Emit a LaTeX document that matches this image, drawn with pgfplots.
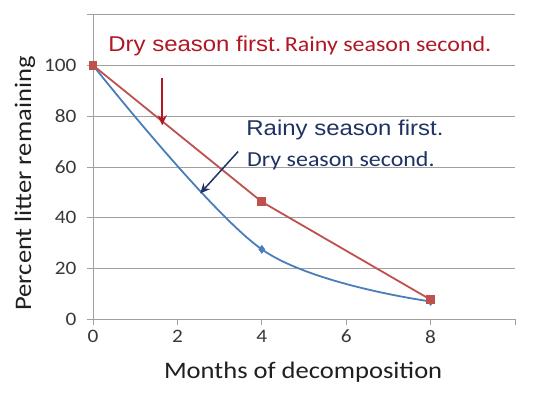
\documentclass[border=0pt]{standalone}
\usepackage{fontspec}
\setmainfont{Carlito}[FakeStretch=1.12]
\newfontfamily\arialf{Liberation Sans}[FakeStretch=1.12]
\usepackage{pgfplots}
\pgfplotsset{compat=1.18}
\usetikzlibrary{arrows.meta}
\definecolor{redline}{RGB}{192,80,77}
\definecolor{blueline}{RGB}{74,126,187}
\definecolor{redtext}{RGB}{176,22,36}
\definecolor{navytext}{RGB}{31,50,100}
\definecolor{gridgray}{RGB}{160,160,160}
\begin{document}
\begin{tikzpicture}
\useasboundingbox (-93pt,-78pt) rectangle (445pt,319.5pt);
\begin{axis}[
  scale only axis,
  width=422pt, height=305pt,
  xmin=0, xmax=10, ymin=0, ymax=120,
  xtick={0,2,4,6,8,10},
  xticklabels={0,2,4,6,8,},
  ytick={0,20,40,60,80,100,120},
  yticklabels={0,20,40,60,80,100,},
  axis lines*=left,
  axis line style={gridgray, line width=0.8pt, -},
  ymajorgrids, xmajorgrids=false,
  grid style={gridgray, line width=0.8pt},
  tick align=outside,
  major tick length=6pt,
  tick style={gridgray, line width=0.8pt},
  /pgf/number format/assume math mode=true,
  ticklabel style={font=\fontsize{19}{22}\selectfont, text=black!78},
  xticklabel style={yshift=-1pt},
  yticklabel style={xshift=-7pt},
  xlabel={Months of decomposition},
  ylabel={Percent litter remaining},
  xlabel style={font=\fontsize{23.7}{28}\selectfont, text=black!88, at={(axis description cs:0.498,-0.174)}, anchor=center},
  ylabel style={font=\fontsize{23.7}{28}\selectfont, text=black!88, at={(axis description cs:-0.161,0.446)}, anchor=center, rotate=0},
  clip=false,
]
\addplot[blueline, line width=1.8pt, smooth, tension=0.55, mark=diamond*, mark size=3pt, mark options={fill=blueline, draw=blueline}]
  coordinates {(0,100) (4,27.6) (8,7.1)};
\addplot[redline, line width=1.8pt, mark=square*, mark size=3.5pt, mark options={fill=redline, draw=redline}]
  coordinates {(0,100) (4,46.3) (8,7.8)};
\node[anchor=base west, inner sep=0pt] at (axis cs:0.36,105.5)
  {\color{redtext}{\arialf\fontsize{21.4}{26}\selectfont Dry season first.} {\fontsize{21.4}{26}\selectfont Rainy season second.}};
\node[anchor=base west, inner sep=0pt, text=navytext] at (axis cs:3.63,72.4)
  {\arialf\fontsize{21.4}{26}\selectfont Rainy season first.};
\node[anchor=base west, inner sep=0pt, text=navytext] at (axis cs:3.65,60.2)
  {\fontsize{21.4}{26}\selectfont Dry season second.};
\draw[redtext, line width=1.8pt, -{Stealth[length=10pt,width=9pt]}] (axis cs:1.64,94.9) -- (axis cs:1.64,76.4);
\draw[navytext, line width=1.5pt, -{Stealth[length=10pt,width=9pt]}] (axis cs:3.44,66.1) -- (axis cs:2.54,49.6);
\end{axis}
\end{tikzpicture}
\end{document}
